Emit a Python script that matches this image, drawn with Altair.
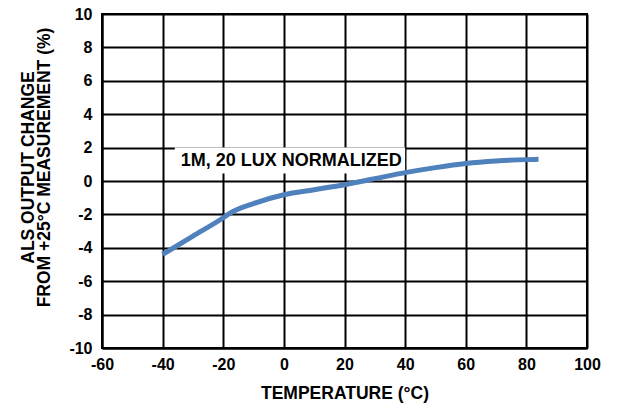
import altair as alt
import pandas as pd

temps = [-40, -30, -20, -18, -10, 0, 10, 20, 30, 40, 50, 60, 70, 80, 84]
change = [-4.4, -3.3, -2.2, -1.95, -1.35, -0.82, -0.52, -0.22, 0.14, 0.5, 0.8, 1.05, 1.2, 1.28, 1.3]

label_text = ["1M, 20 LUX NORMALIZED"]
label_x = [-34]
label_y = [1.2]
box_x1 = [-36]
box_x2 = [40]
box_y1 = [0.45]
box_y2 = [2.0]

x_ticks = [-60, -40, -20, 0, 20, 40, 60, 80, 100]
y_ticks = [-10, -8, -6, -4, -2, 0, 2, 4, 6, 8, 10]

FONT = "Liberation Sans"

df = pd.DataFrame({"t": temps, "c": change})
lab = pd.DataFrame({"text": label_text, "x": label_x, "y": label_y,
                    "x1": box_x1, "x2": box_x2, "y1": box_y1, "y2": box_y2})

xs = alt.Scale(domain=[-60, 100], nice=False, zero=False)
ys = alt.Scale(domain=[-10, 10], nice=False, zero=False)

xax = alt.Axis(values=x_ticks, title="TEMPERATURE (°C)", grid=True,
               ticks=False, labelPadding=8, titlePadding=12, labelFlush=False,
               labelOverlap=False, labelExpr="toString(datum.value)")
yax = alt.Axis(values=y_ticks, title=["ALS OUTPUT CHANGE", "FROM +25°C MEASUREMENT (%)"],
               grid=True, ticks=False, labelPadding=10, titlePadding=15, labelFlush=False,
               labelOverlap=False, labelExpr="toString(datum.value)", titleLineHeight=16,
               titleY=153)

line = alt.Chart(df).mark_line(color="#4f81bd", strokeWidth=5, interpolate="monotone").encode(
    x=alt.X("t:Q", scale=xs, axis=xax),
    y=alt.Y("c:Q", scale=ys, axis=yax),
)

box = alt.Chart(lab).mark_rect(color="white").encode(
    x=alt.X("x1:Q", scale=xs, axis=xax), x2="x2:Q",
    y=alt.Y("y1:Q", scale=ys, axis=yax), y2="y2:Q",
)

text = alt.Chart(lab).mark_text(align="left", baseline="middle", font=FONT, fontWeight="bold",
                                fontSize=18, color="black").encode(
    x=alt.X("x:Q", scale=xs, axis=xax), y=alt.Y("y:Q", scale=ys, axis=yax), text="text:N"
)

chart = alt.layer(box, line, text).properties(
    width=485, height=334,
    autosize=alt.AutoSizeParams(type="none"),
    padding={"left": 94, "top": 6, "right": 30, "bottom": 60},
).configure_view(stroke="black", strokeWidth=2).configure_axis(
    domainColor="black", domainWidth=2, gridColor="black", gridWidth=2, gridOpacity=1,
    labelFont=FONT, labelFontWeight="bold", labelFontSize=16, labelColor="black",
    titleFont=FONT, titleFontWeight="bold", titleFontSize=17.5, titleColor="black",
)

chart.save("out.html", embed_options={"renderer": "svg", "actions": False})
